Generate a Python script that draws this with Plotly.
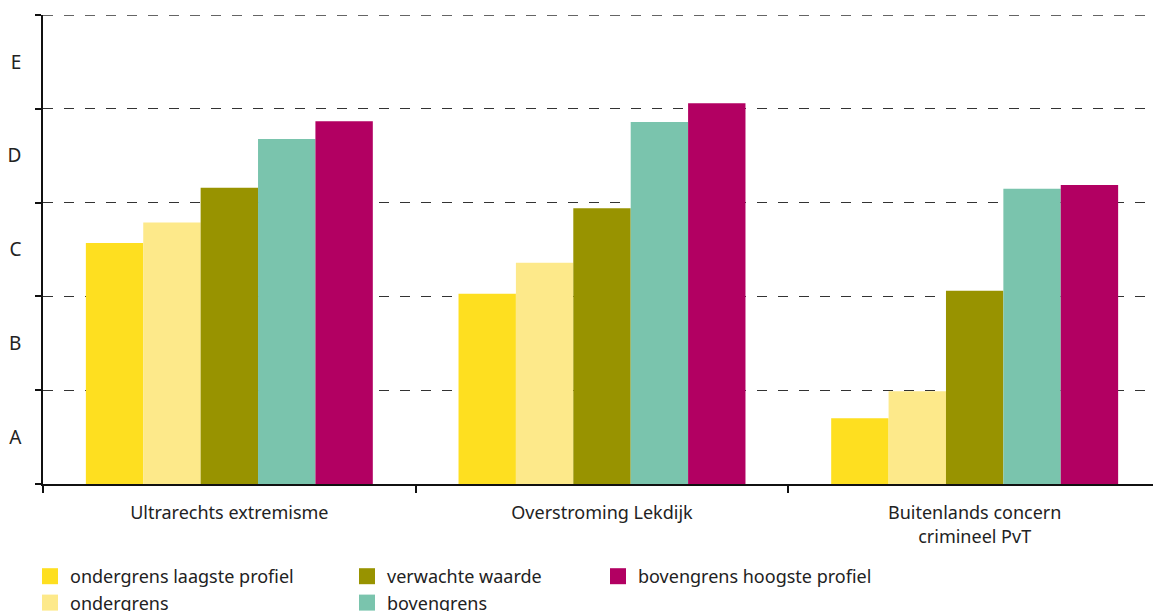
import plotly.graph_objects as go

# Categories along the x axis
categories = ["Ultrarechts extremisme", "Overstroming Lekdijk",
              "Buitenlands concern<br>crimineel PvT"]

# Series values (0-5 scale, A..E classes each one unit wide)
ondergrens_laagste = [2.57, 2.03, 0.70]
ondergrens = [2.79, 2.36, 0.99]
verwachte_waarde = [3.16, 2.94, 2.06]
bovengrens = [3.68, 3.86, 3.15]
bovengrens_hoogste = [3.87, 4.06, 3.19]

class_labels = ["A", "B", "C", "D", "E"]
class_centers = [0.5, 1.5, 2.5, 3.5, 4.5]
class_bounds = [0, 1, 2, 3, 4, 5]

FONT = "Noto Sans"

series = [
    ("ondergrens laagste profiel", ondergrens_laagste, "#fedf20", "legend"),
    ("ondergrens", ondergrens, "#fde98a", "legend"),
    ("verwachte waarde", verwachte_waarde, "#989300", "legend2"),
    ("bovengrens", bovengrens, "#7ac4ad", "legend2"),
    ("bovengrens hoogste profiel", bovengrens_hoogste, "#b20062", "legend3"),
]

fig = go.Figure()
for name, vals, color, leg in series:
    fig.add_trace(go.Bar(
        x=categories, y=vals, name=name,
        marker=dict(color=color, line=dict(width=0)),
        showlegend=False,
    ))
# legend-only square markers (bigger swatches than bar legend icons)
for name, vals, color, leg in series:
    fig.add_trace(go.Scatter(
        x=[None], y=[None], mode="markers", name=name,
        marker=dict(symbol="square", size=16, color=color),
        legend=leg, showlegend=True,
    ))

# top class boundary: plotly drops the grid line at the range edge
fig.add_shape(type="line", xref="paper", yref="y",
              x0=0, x1=1, y0=class_bounds[-1], y1=class_bounds[-1],
              line=dict(color="#333", width=1.2, dash="10px,11px"))

# the page body adds an 8px offset, so the figure is laid out 8px up/left
OFF = 8
W, H = 1161, 611
ml, mr, mt, mb = 43 - OFF, OFF, 15 - OFF, H - (484 - OFF)
pw, ph = W - ml - mr, H - mt - mb


def px_x(p):
    # window pixel -> paper x
    return (p - OFF - ml) / pw


def px_y(p):
    # window pixel -> paper y
    return (H - mb - (p - OFF)) / ph


legend_common = dict(
    orientation="v", yanchor="top", xanchor="left",
    font=dict(family=FONT, size=18, color="#222"),
    bgcolor="rgba(0,0,0,0)", itemwidth=30, tracegroupgap=0,
)

fig.update_layout(
    width=W, height=H,
    margin=dict(l=ml, r=mr, t=mt, b=mb, autoexpand=False),
    barmode="group", bargap=0.23, bargroupgap=0,
    plot_bgcolor="white", paper_bgcolor="white",
    font=dict(family=FONT, size=16, color="#222"),
    legend=dict(x=px_x(30), y=px_y(558), **legend_common),
    legend2=dict(x=px_x(347), y=px_y(558), **legend_common),
    legend3=dict(x=px_x(598), y=px_y(558), **legend_common),
    xaxis=dict(
        showline=True, linecolor="#111", linewidth=1.5,
        tickson="boundaries", ticks="outside", ticklen=7,
        tickcolor="#111", tickwidth=1.5,
        tickfont=dict(family=FONT, size=18, color="#222"),
        showgrid=False, range=[-0.5, 2.5], automargin=False,
        ticklabelstandoff=12,
    ),
    yaxis=dict(
        range=[0, 5.002], showline=True, linecolor="#111", linewidth=1.5,
        tickvals=class_centers, ticktext=class_labels, ticks="",
        tickfont=dict(family=FONT, size=19, color="#222"),
        showgrid=False, zeroline=False, automargin=False,
        minor=dict(tickvals=class_bounds, ticks="outside", ticklen=6,
                   tickcolor="#111", tickwidth=1.5,
                   showgrid=True, gridcolor="#333", gridwidth=1.2,
                   griddash="10px,11px"),
        ticklabelstandoff=16,
    ),
)

fig.write_html("out.html")
